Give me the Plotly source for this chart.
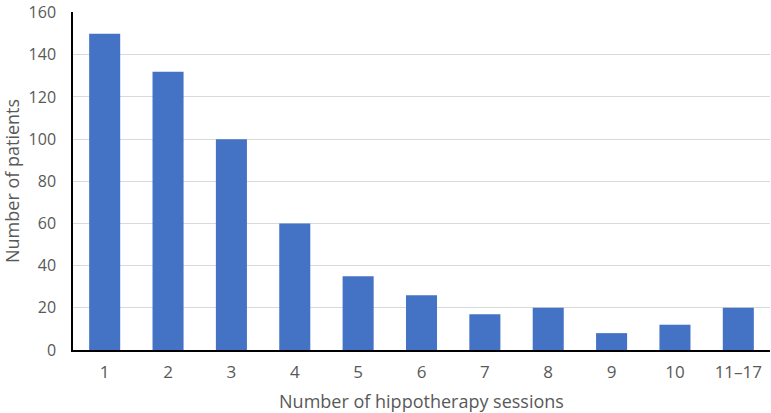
import plotly.graph_objects as go

categories = ["1", "2", "3", "4", "5", "6", "7", "8", "9", "10", "11\u201317"]
patients = [150, 132, 100, 60, 35, 26, 17, 20, 8, 12, 20]
y_ticks = [0, 20, 40, 60, 80, 100, 120, 140, 160]

font_family = "Open Sans, Carlito, sans-serif"
gray = "#595959"

fig = go.Figure(
    go.Bar(x=categories, y=patients, marker=dict(color="#4472C4", line=dict(width=0)))
)

fig.update_layout(
    width=771,
    height=413,
    margin=dict(l=73, r=1, t=12, b=63),
    paper_bgcolor="white",
    plot_bgcolor="white",
    bargap=0.51,
    showlegend=False,
    font=dict(family=font_family, color=gray, size=18),
    annotations=[
        dict(
            text="Number of patients",
            xref="paper", yref="paper",
            x=0, y=0.5,
            xshift=-61,
            xanchor="center", yanchor="middle",
            textangle=-90,
            showarrow=False,
            font=dict(size=18, color=gray),
        )
    ],
)

fig.update_xaxes(
    type="category",
    automargin=False,
    showline=True,
    linecolor="black",
    linewidth=1.5,
    showgrid=False,
    ticks="",
    ticklabelstandoff=6,
    tickfont=dict(size=17, color=gray),
    title=dict(text="Number of hippotherapy sessions", font=dict(size=18, color=gray), standoff=16),
)

fig.update_yaxes(
    range=[0, 160.3],
    automargin=False,
    tickvals=y_ticks,
    showline=True,
    linecolor="black",
    linewidth=1.5,
    showgrid=True,
    gridcolor="#d9d9d9",
    gridwidth=1,
    zeroline=False,
    ticks="",
    ticklabelstandoff=12,
    ticklabeloverflow="allow",
    tickfont=dict(size=16, color=gray),
)

fig.write_html("out.html")
